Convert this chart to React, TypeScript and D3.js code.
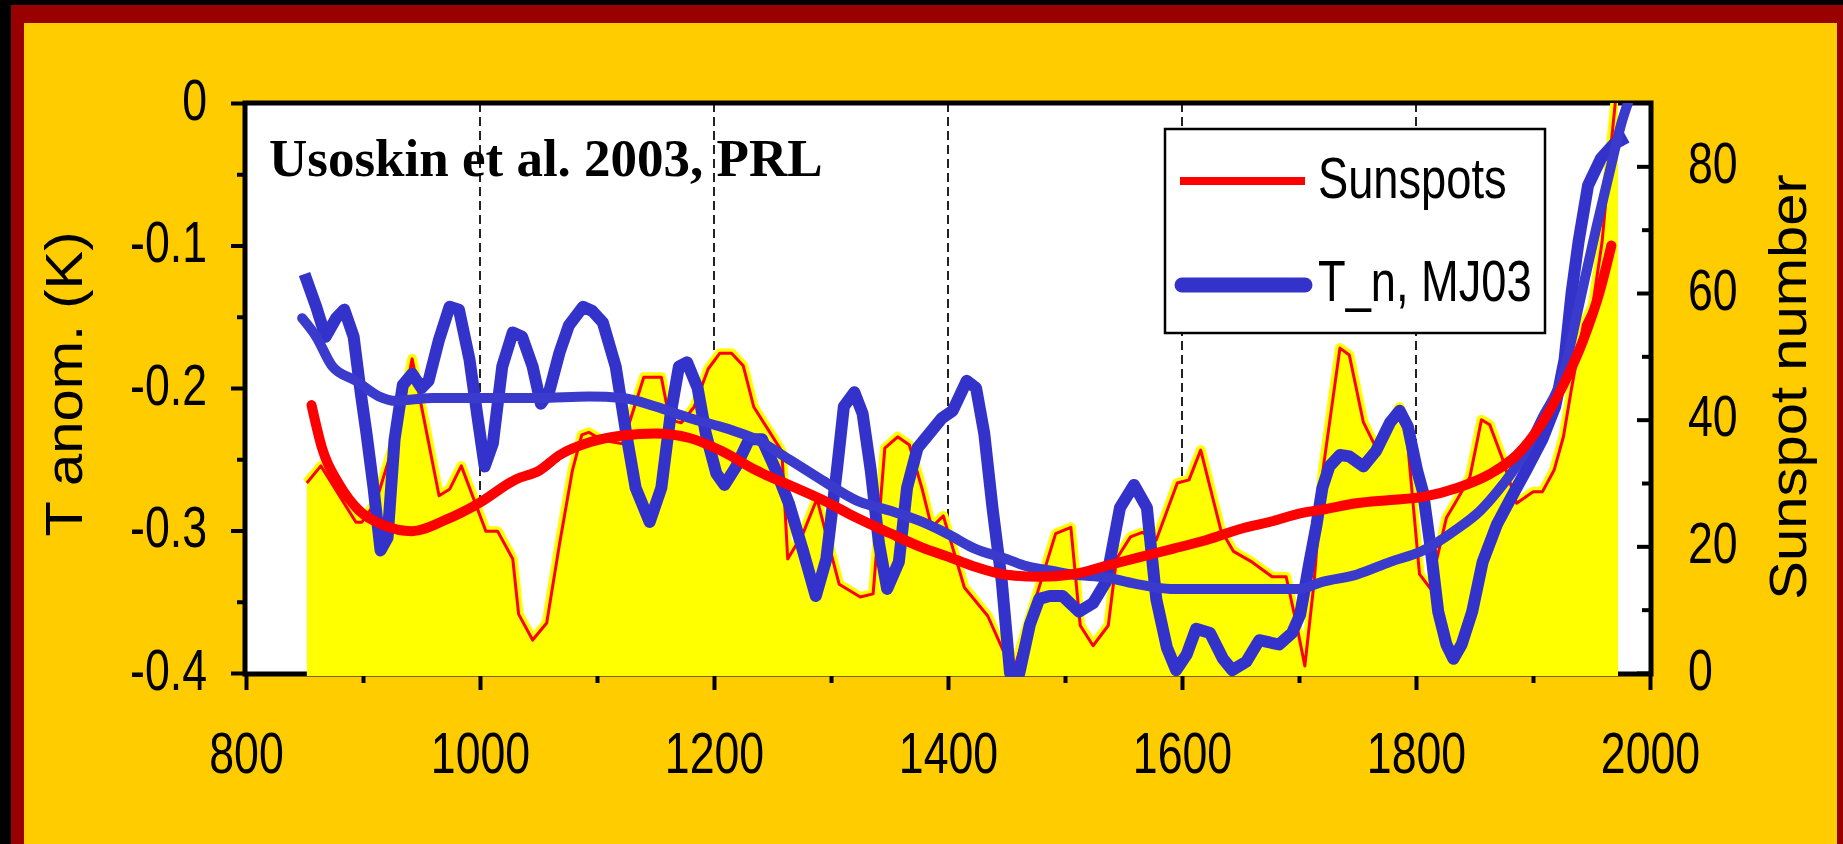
import React, { useEffect, useRef } from "react";
import * as d3 from "d3";

const W = 1843;
const H = 844;

// Sunspot number (thin red line over yellow area), right axis
const sunspotYears = [852, 864, 894, 899, 911, 931, 942, 965, 974, 984, 1005, 1015, 1028, 1033, 1045, 1057, 1068, 1079, 1087, 1093, 1104, 1122, 1140, 1155, 1162, 1172, 1183, 1195, 1205, 1215, 1225, 1234, 1246, 1258, 1263, 1276, 1288, 1307, 1325, 1336, 1346, 1357, 1367, 1378, 1386, 1396, 1414, 1434, 1447, 1456, 1467, 1492, 1505, 1513, 1524, 1537, 1544, 1556, 1566, 1578, 1596, 1606, 1616, 1633, 1644, 1660, 1677, 1689, 1698, 1705, 1713, 1720, 1735, 1743, 1755, 1766, 1786, 1792, 1803, 1812, 1826, 1835, 1846, 1856, 1863, 1874, 1886, 1900, 1908, 1918, 1926, 1933, 1943, 1951, 1959, 1966, 1973];
const sunspotValues = [30, 32.7, 23.8, 23.8, 27, 39, 49.6, 28, 29, 32.7, 22.4, 22.4, 18, 9.3, 5.2, 7.9, 20.4, 32, 37.6, 38, 36.8, 36.2, 46.7, 46.7, 40, 39.5, 42, 48, 50.5, 50.5, 48.5, 42, 38.5, 35, 18, 22, 27.5, 14, 12, 12.5, 35.5, 37.3, 36, 29, 23, 24.8, 13.5, 9, 3.6, 0.3, 7, 22, 23, 7.5, 4.3, 7.5, 18, 21.5, 22.2, 21, 30, 30.5, 35.2, 22.7, 19.2, 17.5, 15.2, 15.2, 7.6, 1.1, 14.5, 31.4, 51.3, 50.2, 39.6, 35.5, 42, 38, 15.6, 13.4, 24.5, 27.3, 30.9, 40, 39.2, 33.8, 26.8, 28.6, 28.6, 32, 37.3, 45, 55, 58, 68, 82, 95];

// Smoothed sunspot number (thick red)
const sunspotSmoothYears = [856, 865, 880, 897, 917, 942, 971, 999, 1031, 1051, 1068, 1095, 1122, 1150, 1179, 1207, 1236, 1264, 1293, 1322, 1350, 1378, 1401, 1421, 1450, 1478, 1507, 1535, 1564, 1592, 1621, 1649, 1678, 1701, 1720, 1749, 1778, 1806, 1835, 1863, 1886, 1906, 1926, 1943, 1957, 1967];
const sunspotSmoothValues = [42.3, 35.5, 29.7, 25.6, 23.4, 22.4, 24.2, 26.8, 30.6, 32, 34.4, 36.5, 37.5, 37.8, 37.1, 35, 32, 29.7, 27.3, 24.5, 22.1, 19.8, 18.3, 16.9, 15.5, 15.2, 15.6, 16.9, 18.3, 19.6, 21, 22.7, 24, 25.2, 25.8, 26.8, 27.3, 27.8, 29.2, 31.4, 34.4, 39, 45.5, 52.6, 60.2, 67.5];

// T_n, MJ03 temperature anomaly (thick blue), left axis
const tempYears = [850, 860, 868, 877, 884, 892, 898, 903, 909, 915, 921, 927, 934, 942, 950, 956, 965, 974, 982, 991, 998, 1004, 1011, 1019, 1028, 1036, 1045, 1052, 1059, 1068, 1076, 1088, 1096, 1105, 1116, 1125, 1133, 1145, 1155, 1163, 1170, 1177, 1186, 1193, 1202, 1209, 1219, 1230, 1241, 1253, 1264, 1276, 1287, 1296, 1305, 1311, 1320, 1327, 1334, 1341, 1348, 1358, 1365, 1374, 1384, 1395, 1404, 1416, 1424, 1431, 1438, 1446, 1453, 1461, 1470, 1478, 1487, 1498, 1512, 1524, 1535, 1547, 1559, 1570, 1578, 1587, 1595, 1604, 1612, 1624, 1635, 1643, 1655, 1666, 1683, 1694, 1701, 1709, 1715, 1720, 1726, 1735, 1743, 1755, 1766, 1778, 1786, 1793, 1801, 1806, 1812, 1819, 1826, 1832, 1839, 1848, 1857, 1869, 1880, 1894, 1908, 1919, 1927, 1933, 1939, 1947, 1958, 1969, 1980];
const tempValues = [-0.12, -0.143, -0.164, -0.151, -0.145, -0.164, -0.203, -0.232, -0.27, -0.314, -0.305, -0.236, -0.198, -0.19, -0.2, -0.195, -0.166, -0.143, -0.145, -0.18, -0.221, -0.255, -0.239, -0.185, -0.161, -0.164, -0.185, -0.211, -0.203, -0.175, -0.156, -0.143, -0.146, -0.154, -0.185, -0.232, -0.27, -0.294, -0.27, -0.218, -0.185, -0.182, -0.2, -0.232, -0.26, -0.268, -0.255, -0.236, -0.236, -0.258, -0.281, -0.314, -0.346, -0.32, -0.258, -0.213, -0.203, -0.218, -0.258, -0.309, -0.341, -0.322, -0.27, -0.242, -0.232, -0.221, -0.216, -0.195, -0.2, -0.232, -0.284, -0.336, -0.4, -0.4, -0.366, -0.348, -0.346, -0.346, -0.357, -0.351, -0.336, -0.284, -0.268, -0.284, -0.348, -0.382, -0.398, -0.387, -0.369, -0.372, -0.39, -0.398, -0.392, -0.377, -0.38, -0.372, -0.359, -0.322, -0.296, -0.27, -0.255, -0.247, -0.248, -0.255, -0.244, -0.224, -0.216, -0.227, -0.258, -0.273, -0.309, -0.357, -0.38, -0.39, -0.38, -0.357, -0.322, -0.296, -0.279, -0.258, -0.236, -0.213, -0.18, -0.133, -0.097, -0.058, -0.039, -0.029, -0.024];

// Smoothed temperature (blue)
const tempSmoothYears = [848, 860, 874, 894, 914, 928, 942, 960, 1000, 1050, 1093, 1122, 1150, 1179, 1213, 1236, 1264, 1293, 1322, 1350, 1378, 1401, 1421, 1450, 1467, 1487, 1507, 1535, 1564, 1590, 1650, 1700, 1720, 1749, 1778, 1806, 1835, 1855, 1874, 1892, 1908, 1926, 1939, 1954, 1965, 1976, 1982];
const tempSmoothValues = [-0.151, -0.164, -0.185, -0.195, -0.206, -0.209, -0.208, -0.207, -0.207, -0.207, -0.206, -0.207, -0.213, -0.221, -0.229, -0.236, -0.25, -0.265, -0.279, -0.286, -0.294, -0.303, -0.312, -0.32, -0.325, -0.328, -0.331, -0.333, -0.338, -0.341, -0.341, -0.341, -0.336, -0.331, -0.322, -0.314, -0.299, -0.286, -0.268, -0.247, -0.221, -0.19, -0.143, -0.088, -0.05, -0.013, 0.002];

const xTicksMajor = [800, 1000, 1200, 1400, 1600, 1800, 2000];
const xTicksMinor = [900, 1100, 1300, 1500, 1700, 1900];
const gridYears = [1000, 1200, 1400, 1600, 1800];
const leftTicksMajor = [0, -0.1, -0.2, -0.3, -0.4];
const leftTicksMinor = [-0.05, -0.15, -0.25, -0.35];
const rightTicksMajor = [0, 20, 40, 60, 80];
const rightTicksMinor = [10, 30, 50, 70];
const legendLabels = ["Sunspots", "T_n, MJ03"];
const fillEndYear = 1972.6;

const SANS = "'Liberation Sans', Arial, Helvetica, sans-serif";
const SERIF = "'Liberation Serif', 'Times New Roman', serif";
const NARROW = 0.77; // tick labels are horizontally squeezed in the original

export default function App() {
    const ref = useRef<SVGSVGElement>(null);

    useEffect(() => {
        const svg = d3.select(ref.current);
        svg.selectAll("*").remove();

        const left = 245, right = 1651, top = 103, bottom = 674;
        const x = d3.scaleLinear().domain([800, 2000]).range([246, 1650]);
        const yL = d3.scaleLinear().domain([0, -0.4]).range([103, 673]);
        const yR = d3.scaleLinear().domain([0, 90]).range([673, 103]);

        // frame / background
        svg.append("rect").attr("width", W).attr("height", H).attr("fill", "#000");
        svg.append("rect").attr("x", 11).attr("y", 5).attr("width", W - 11).attr("height", H - 5).attr("fill", "#990000");
        svg.append("rect").attr("x", 24).attr("y", 23).attr("width", 1813).attr("height", H - 23).attr("fill", "#FFCC00");
        svg.append("rect").attr("x", left).attr("y", top).attr("width", right - left).attr("height", bottom - top).attr("fill", "#fff");

        // dashed grid lines
        svg.append("g").selectAll("line").data(gridYears).enter().append("line")
            .attr("x1", d => x(d)).attr("x2", d => x(d))
            .attr("y1", top).attr("y2", bottom)
            .attr("stroke", "#222").attr("stroke-width", 2).attr("stroke-dasharray", "9,5");

        // axes
        const styleAxis = (g: any) => {
            g.select(".domain").remove();
            g.selectAll(".tick line").attr("stroke", "#000").attr("stroke-width", 4);
            g.attr("font-size", 58).attr("font-family", SANS);
            g.selectAll(".tick text").attr("fill", "#000");
        };

        const bottomMajor = svg.append("g").attr("transform", `translate(0,${bottom})`)
            .call(d3.axisBottom(x).tickValues(xTicksMajor).tickSize(16).tickSizeOuter(0).tickFormat(d3.format("d")) as any);
        styleAxis(bottomMajor);
        bottomMajor.selectAll(".tick text").attr("y", 99).attr("dy", null)
            .attr("transform", `scale(${NARROW},1)`);

        const bottomMinor = svg.append("g").attr("transform", `translate(0,${bottom})`)
            .call(d3.axisBottom(x).tickValues(xTicksMinor).tickSize(9).tickSizeOuter(0).tickFormat(() => "") as any);
        styleAxis(bottomMinor);

        const fmtL = (d: any) => (d === 0 ? "0" : d3.format(".1f")(d).replace("−", "-"));
        const leftMajor = svg.append("g").attr("transform", `translate(${left},0)`)
            .call(d3.axisLeft(yL).tickValues(leftTicksMajor).tickSize(14).tickSizeOuter(0).tickFormat(fmtL) as any);
        styleAxis(leftMajor);
        leftMajor.selectAll(".tick text").attr("x", -38 / NARROW).attr("dy", "0.28em")
            .attr("transform", `scale(${NARROW},1)`);

        const leftMinor = svg.append("g").attr("transform", `translate(${left},0)`)
            .call(d3.axisLeft(yL).tickValues(leftTicksMinor).tickSize(8).tickSizeOuter(0).tickFormat(() => "") as any);
        styleAxis(leftMinor);

        const rightMajor = svg.append("g").attr("transform", `translate(${right},0)`)
            .call(d3.axisRight(yR).tickValues(rightTicksMajor).tickSize(-14).tickSizeOuter(0).tickFormat(d3.format("d")) as any);
        styleAxis(rightMajor);
        rightMajor.selectAll(".tick text").attr("x", 37 / NARROW).attr("dy", "0.28em")
            .attr("text-anchor", "start").attr("transform", `scale(${NARROW},1)`);

        const rightMinor = svg.append("g").attr("transform", `translate(${right},0)`)
            .call(d3.axisRight(yR).tickValues(rightTicksMinor).tickSize(-9).tickSizeOuter(0).tickFormat(() => "") as any);
        styleAxis(rightMinor);

        svg.append("rect").attr("x", left).attr("y", top).attr("width", right - left).attr("height", bottom - top)
            .attr("fill", "none").attr("stroke", "#000").attr("stroke-width", 5);

        // data
        const defs = svg.append("defs");
        defs.append("clipPath").attr("id", "plotClip").append("rect")
            .attr("x", left + 2).attr("y", top).attr("width", right - left - 4).attr("height", bottom - top + 3);
        defs.append("clipPath").attr("id", "fillClip").append("rect")
            .attr("x", left + 2).attr("y", top).attr("width", x(fillEndYear) - left - 2).attr("height", bottom - top + 3);

        const sunspots = sunspotYears.map((yr, i) => [yr, sunspotValues[i]] as [number, number]);
        const sunspotSmooth = sunspotSmoothYears.map((yr, i) => [yr, sunspotSmoothValues[i]] as [number, number]);
        const temp = tempYears.map((yr, i) => [yr, tempValues[i]] as [number, number]);
        const tempSmooth = tempSmoothYears.map((yr, i) => [yr, tempSmoothValues[i]] as [number, number]);

        const area = d3.area<[number, number]>().x(d => x(d[0])).y0(bottom + 2).y1(d => yR(d[1]));
        const lineR = d3.line<[number, number]>().x(d => x(d[0])).y(d => yR(d[1]));
        const lineRSmooth = d3.line<[number, number]>().x(d => x(d[0])).y(d => yR(d[1])).curve(d3.curveMonotoneX);
        const lineL = d3.line<[number, number]>().x(d => x(d[0])).y(d => yL(d[1]));
        const lineLSmooth = d3.line<[number, number]>().x(d => x(d[0])).y(d => yL(d[1])).curve(d3.curveMonotoneX);

        const fillG = svg.append("g").attr("clip-path", "url(#fillClip)");
        fillG.append("path").attr("d", area(sunspots)).attr("fill", "#FFFF00");
        fillG.append("path").attr("d", lineR(sunspots)).attr("fill", "none")
            .attr("stroke", "#FFFF00").attr("stroke-width", 10).attr("stroke-linejoin", "round");

        const dataG = svg.append("g").attr("clip-path", "url(#plotClip)");
        dataG.append("path").attr("d", lineR(sunspots)).attr("fill", "none")
            .attr("stroke", "#FF0000").attr("stroke-width", 3).attr("stroke-linejoin", "round");
        dataG.append("path").attr("d", lineL(temp)).attr("fill", "none")
            .attr("stroke", "#3333CC").attr("stroke-width", 12).attr("stroke-linejoin", "round");
        dataG.append("path").attr("d", lineLSmooth(tempSmooth)).attr("fill", "none")
            .attr("stroke", "#3a3acc").attr("stroke-width", 10).attr("stroke-linecap", "round");
        dataG.append("path").attr("d", lineRSmooth(sunspotSmooth)).attr("fill", "none")
            .attr("stroke", "#FF0000").attr("stroke-width", 10).attr("stroke-linecap", "round");

        // legend
        const lg = svg.append("g");
        lg.append("rect").attr("x", 1165).attr("y", 129).attr("width", 380).attr("height", 204)
            .attr("fill", "#fff").attr("stroke", "#000").attr("stroke-width", 2.5);
        lg.append("line").attr("x1", 1180).attr("x2", 1305).attr("y1", 181).attr("y2", 181)
            .attr("stroke", "#FF0000").attr("stroke-width", 8);
        lg.append("line").attr("x1", 1182).attr("x2", 1305).attr("y1", 285).attr("y2", 285)
            .attr("stroke", "#3333CC").attr("stroke-width", 15).attr("stroke-linecap", "round");
        lg.selectAll("text").data(legendLabels).enter().append("text")
            .attr("transform", (d, i) => `translate(1318,${i === 0 ? 198 : 301}) scale(${NARROW + 0.01},1)`)
            .attr("font-family", SANS).attr("font-size", 58).attr("fill", "#000")
            .text(d => d);

        // annotation
        svg.append("text").attr("x", 269).attr("y", 176)
            .attr("font-family", SERIF).attr("font-weight", "bold").attr("font-size", 53).attr("fill", "#000")
            .text("Usoskin et al. 2003, PRL");

        // axis titles
        svg.append("text").attr("transform", "translate(82,384) rotate(-90) scale(1,0.88)")
            .attr("text-anchor", "middle").attr("font-family", SANS).attr("font-size", 58).attr("fill", "#000")
            .text("T anom. (K)");
        svg.append("text").attr("transform", "translate(1806,387) rotate(-90) scale(1,0.88)")
            .attr("text-anchor", "middle").attr("font-family", SANS).attr("font-size", 58).attr("fill", "#000")
            .text("Sunspot number");
    });

    return (
        <svg ref={ref} width={W} height={H}
             style={{ position: "absolute", left: 0, top: 0, display: "block" }} />
    );
}
